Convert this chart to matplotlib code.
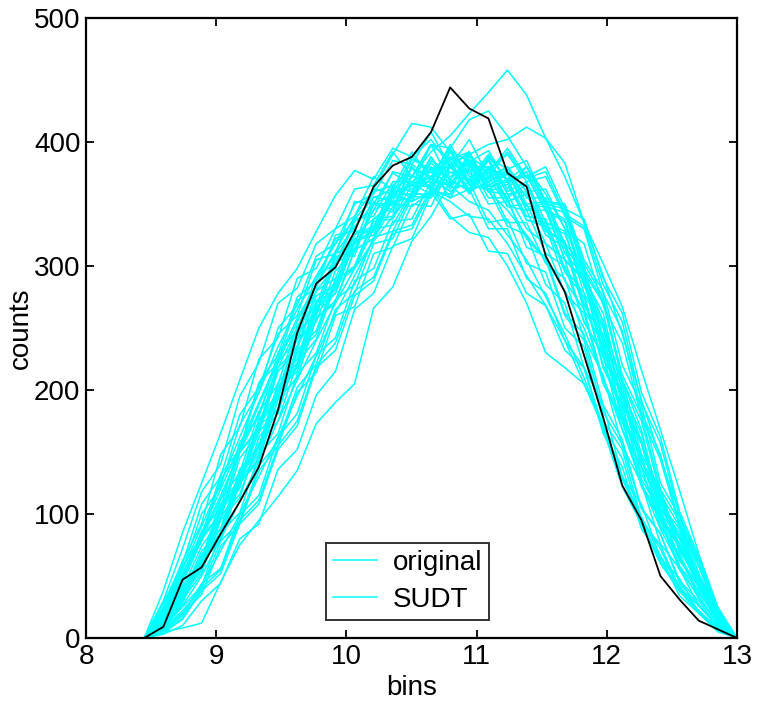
import matplotlib
matplotlib.use("Agg")
import matplotlib.pyplot as plt

plt.rcParams['font.family'] = ['Liberation Sans', 'DejaVu Sans']

bins = [8.447, 8.594, 8.741, 8.888, 9.034, 9.181, 9.328, 9.475, 9.622, 9.769,
        9.916, 10.063, 10.209, 10.356, 10.503, 10.650, 10.797, 10.944, 11.091, 11.237,
        11.384, 11.531, 11.678, 11.825, 11.972, 12.119, 12.266, 12.412, 12.559, 12.706,
        12.853, 13.000]

# cyan curves (counts per bin)
c01 = [0, 38, 85, 125, 165, 208, 250, 278, 298, 328, 357, 377, 370, 395, 388, 402, 380, 392, 360, 358, 330, 318, 278, 262, 205, 175, 122, 95, 55, 34, 11, 0]
c02 = [0, 30, 72, 118, 140, 195, 222, 270, 282, 318, 330, 362, 365, 392, 372, 398, 368, 378, 350, 352, 322, 305, 260, 240, 182, 156, 104, 84, 46, 30, 9, 0]
c03 = [0, 25, 62, 92, 148, 170, 225, 242, 290, 298, 330, 340, 372, 362, 392, 370, 388, 365, 362, 332, 325, 285, 270, 218, 188, 130, 108, 64, 48, 20, 8, 0]
c04 = [0, 22, 55, 100, 122, 172, 198, 250, 268, 308, 318, 350, 358, 385, 382, 408, 380, 382, 355, 355, 315, 308, 262, 245, 188, 160, 105, 84, 44, 27, 9, 0]
c05 = [0, 28, 60, 108, 130, 180, 202, 245, 260, 305, 310, 352, 350, 375, 365, 372, 360, 368, 335, 338, 302, 295, 250, 235, 175, 152, 96, 72, 38, 22, 6, 0]
c06 = [0, 20, 50, 78, 128, 150, 205, 222, 272, 282, 325, 328, 362, 358, 388, 375, 385, 360, 368, 335, 335, 302, 290, 242, 212, 155, 125, 76, 56, 26, 10, 0]
c07 = [0, 18, 48, 86, 105, 158, 178, 230, 248, 292, 302, 338, 340, 368, 368, 378, 355, 362, 330, 330, 290, 278, 240, 218, 165, 138, 88, 66, 34, 20, 5, 0]
c08 = [0, 24, 58, 82, 132, 152, 206, 228, 275, 288, 322, 330, 360, 365, 378, 372, 395, 368, 378, 348, 345, 310, 300, 255, 228, 168, 138, 90, 66, 33, 12, 0]
c09 = [0, 12, 35, 70, 88, 136, 155, 206, 225, 272, 285, 326, 332, 364, 360, 383, 370, 385, 365, 374, 348, 348, 305, 288, 226, 195, 138, 110, 70, 47, 16, 0]
c10 = [0, 15, 38, 60, 108, 128, 176, 198, 248, 260, 306, 314, 345, 355, 380, 362, 392, 365, 385, 352, 358, 325, 315, 265, 236, 175, 146, 94, 74, 40, 17, 0]
c11 = [0, 10, 30, 65, 82, 128, 148, 198, 218, 266, 278, 320, 328, 358, 358, 388, 365, 390, 360, 378, 345, 352, 315, 295, 238, 202, 143, 116, 72, 50, 19, 0]
c12 = [0, 14, 40, 58, 105, 125, 166, 185, 236, 262, 308, 308, 352, 345, 382, 370, 398, 372, 375, 355, 366, 330, 318, 268, 245, 178, 148, 96, 76, 42, 18, 0]
c13 = [0, 8, 28, 62, 78, 125, 143, 192, 210, 258, 270, 313, 322, 356, 352, 380, 362, 386, 368, 378, 355, 355, 318, 300, 242, 208, 148, 120, 74, 52, 19, 0]
c14 = [0, 16, 42, 63, 112, 133, 182, 205, 252, 268, 310, 318, 356, 352, 386, 378, 388, 368, 372, 348, 350, 318, 305, 255, 228, 168, 138, 90, 68, 36, 16, 0]
c15 = [0, 11, 32, 67, 84, 132, 153, 202, 222, 270, 282, 318, 330, 352, 355, 378, 380, 402, 372, 380, 350, 352, 310, 292, 232, 198, 142, 114, 72, 48, 17, 0]
c16 = [0, 13, 36, 58, 102, 124, 172, 193, 242, 255, 296, 312, 350, 350, 368, 365, 383, 362, 386, 358, 360, 328, 320, 270, 240, 180, 146, 98, 76, 41, 18, 0]
c17 = [0, 9, 30, 65, 85, 132, 150, 200, 215, 262, 278, 320, 325, 360, 362, 388, 364, 392, 362, 370, 340, 338, 298, 278, 220, 188, 132, 104, 64, 42, 14, 0]
c18 = [0, 14, 38, 60, 105, 126, 175, 194, 245, 263, 302, 313, 350, 343, 380, 360, 388, 380, 380, 360, 368, 335, 328, 278, 250, 188, 157, 104, 82, 44, 20, 0]
c19 = [0, 12, 34, 67, 88, 133, 153, 203, 219, 267, 281, 322, 331, 362, 355, 385, 375, 378, 368, 375, 345, 345, 305, 290, 230, 197, 138, 112, 70, 48, 17, 0]
c20 = [0, 10, 33, 56, 98, 116, 157, 175, 222, 241, 285, 298, 330, 333, 360, 355, 382, 358, 378, 352, 358, 332, 326, 285, 256, 190, 160, 105, 85, 45, 20, 0]
c21 = [0, 17, 44, 79, 101, 150, 170, 223, 240, 286, 298, 336, 345, 376, 372, 398, 386, 392, 364, 368, 337, 332, 288, 265, 208, 178, 124, 98, 58, 38, 13, 0]
c22 = [0, 12, 35, 54, 97, 121, 172, 183, 232, 248, 290, 298, 336, 338, 366, 358, 370, 360, 380, 370, 373, 345, 338, 290, 262, 198, 165, 108, 88, 46, 21, 0]
c23 = [0, 15, 40, 74, 96, 145, 165, 215, 233, 276, 285, 326, 328, 358, 352, 380, 372, 383, 360, 366, 337, 335, 295, 275, 218, 185, 128, 102, 62, 42, 14, 0]
c24 = [0, 11, 31, 52, 95, 113, 162, 181, 230, 245, 288, 300, 338, 340, 373, 367, 393, 384, 393, 367, 373, 344, 336, 284, 252, 188, 157, 100, 82, 43, 19, 0]
c25 = [0, 5, 8, 12, 45, 75, 95, 114, 135, 173, 190, 205, 266, 283, 320, 340, 368, 362, 388, 378, 385, 352, 348, 302, 275, 208, 168, 105, 80, 42, 18, 0]
c26 = [0, 6, 18, 44, 56, 99, 115, 162, 181, 228, 242, 288, 298, 336, 338, 368, 365, 388, 378, 390, 368, 372, 340, 330, 278, 248, 182, 148, 92, 62, 20, 0]
c27 = [0, 8, 22, 40, 78, 94, 139, 158, 202, 221, 265, 278, 318, 322, 356, 355, 376, 368, 388, 370, 380, 352, 350, 305, 280, 220, 188, 125, 98, 52, 22, 0]
c28 = [0, 4, 15, 38, 52, 92, 108, 152, 171, 218, 232, 276, 288, 326, 330, 360, 358, 383, 375, 395, 372, 380, 346, 338, 290, 262, 198, 162, 102, 66, 23, 0]
c29 = [0, 7, 20, 35, 74, 92, 135, 155, 198, 214, 260, 267, 310, 315, 350, 348, 380, 360, 386, 362, 380, 350, 346, 298, 272, 212, 180, 120, 94, 48, 22, 0]
c30 = [0, 5, 16, 40, 55, 95, 111, 155, 175, 220, 238, 280, 291, 328, 333, 363, 355, 380, 372, 392, 371, 376, 342, 332, 285, 255, 190, 157, 98, 64, 21, 0]
c31 = [0, 9, 25, 42, 85, 101, 148, 165, 213, 230, 273, 285, 323, 328, 358, 358, 380, 370, 390, 368, 376, 348, 343, 295, 270, 208, 175, 116, 90, 47, 20, 0]
c32 = [0, 6, 20, 42, 70, 100, 130, 162, 195, 228, 262, 292, 322, 348, 372, 392, 405, 423, 440, 458, 438, 403, 383, 335, 302, 267, 216, 168, 119, 68, 25, 0]
c33 = [0, 20, 52, 85, 120, 155, 190, 225, 258, 285, 310, 332, 350, 358, 365, 364, 340, 327, 323, 300, 270, 230, 218, 205, 170, 128, 95, 62, 40, 22, 8, 0]
c34 = [0, 15, 45, 82, 100, 150, 168, 218, 235, 280, 290, 328, 328, 358, 352, 360, 338, 342, 312, 310, 278, 268, 232, 218, 170, 145, 94, 75, 40, 26, 9, 0]
c35 = [0, 10, 30, 62, 80, 126, 145, 193, 210, 258, 272, 313, 322, 360, 365, 398, 395, 418, 425, 405, 380, 358, 330, 295, 255, 205, 158, 115, 80, 48, 18, 0]
c36 = [0, 8, 26, 50, 80, 110, 142, 175, 208, 240, 270, 298, 320, 340, 358, 370, 382, 390, 398, 402, 412, 403, 372, 335, 292, 245, 192, 145, 100, 58, 21, 0]
c37 = [0, 20, 50, 82, 115, 150, 188, 222, 255, 285, 312, 340, 362, 390, 415, 412, 392, 375, 360, 345, 325, 305, 280, 250, 210, 168, 125, 88, 58, 32, 12, 0]
c38 = [0, 3, 10, 30, 44, 80, 92, 136, 152, 196, 215, 265, 278, 316, 322, 358, 358, 378, 370, 380, 360, 362, 330, 318, 268, 238, 178, 144, 90, 58, 19, 0]
c39 = [0, 22, 55, 90, 125, 162, 198, 235, 265, 292, 318, 338, 355, 362, 372, 370, 365, 352, 345, 325, 305, 275, 245, 210, 168, 122, 92, 60, 38, 20, 6, 0]
c40 = [0, 18, 46, 80, 112, 150, 182, 218, 250, 280, 300, 325, 338, 350, 348, 360, 352, 340, 338, 318, 292, 268, 240, 205, 172, 130, 98, 66, 42, 22, 7, 0]

cyan_curves = [c01, c02, c03, c04, c05, c06, c07, c08, c09, c10, c11, c12, c13,
               c14, c15, c16, c17, c18, c19, c20, c21, c22, c23, c24, c25, c26,
               c27, c28, c29, c30, c31, c32, c33, c34, c35, c36, c37, c38, c39, c40]

black_curve = [0, 9, 47, 57, 84, 110, 138, 184, 246, 286, 299, 328, 364, 381, 388, 408,
               444, 427, 419, 375, 364, 308, 279, 228, 178, 123, 95, 50, 31, 14, 7, 0]

legend_labels = ['original', 'SUDT']

fig = plt.figure(figsize=(7.58, 7.17), dpi=100)
ax = fig.add_axes([86/758, 79/717, 651/758, 620/717])

handles = []
for c in cyan_curves:
    h, = ax.plot(bins, c, color='#00FFFF', lw=1.1)
    handles.append(h)
ax.plot(bins, black_curve, color='black', lw=1.3)

ax.set_xlim(8, 13)
ax.set_ylim(0, 500)
ax.set_xticks([8, 9, 10, 11, 12, 13])
ax.set_yticks([0, 100, 200, 300, 400, 500])
ax.tick_params(direction='in', length=6, width=1.3, labelsize=20,
               top=True, right=True, pad=4)
for s in ax.spines.values():
    s.set_linewidth(1.6)
ax.set_xlabel('bins', fontsize=20, labelpad=4)
ax.set_ylabel('counts', fontsize=20, labelpad=0)

leg = ax.legend(handles[:2], legend_labels, loc='lower left',
                bbox_to_anchor=((326 - 86) / 651, (638 - 620) / 620),
                fontsize=20, frameon=True, fancybox=False, handlelength=1.6,
                borderpad=0.25, borderaxespad=0.0, labelspacing=0.4,
                handletextpad=0.55)
leg.get_frame().set_edgecolor('black')
leg.get_frame().set_linewidth(1.4)

fig.savefig('out.png', dpi=100)
